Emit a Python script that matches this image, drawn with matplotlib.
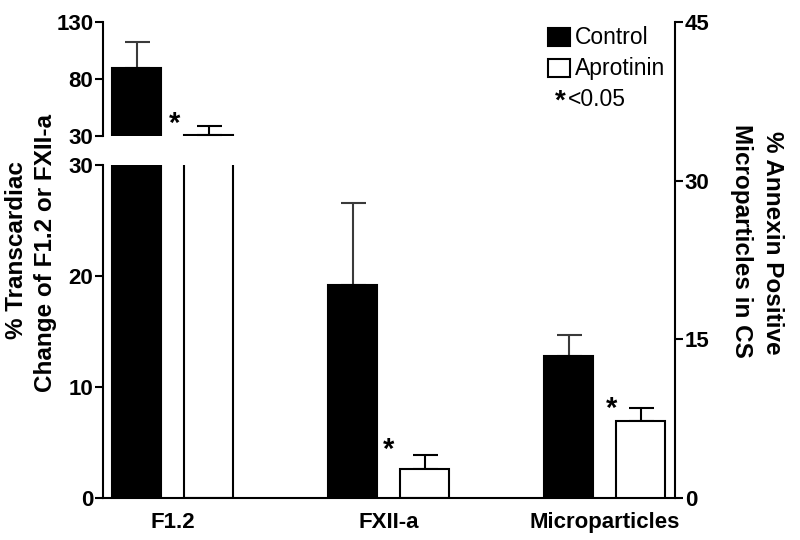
import matplotlib
matplotlib.use("Agg")
import matplotlib.pyplot as plt
from matplotlib.patches import Rectangle

plt.rcParams['font.family'] = ['Liberation Sans', 'DejaVu Sans']

categories = ['F1.2', 'FXII-a', 'Microparticles']
control = [89.6, 19.2, 13.4]
control_err = [22.9, 7.4, 2.0]
aprotinin = [31.0, 2.6, 7.3]
aprotinin_err = [7.8, 1.3, 1.2]
top_ticks = [30, 80, 130]
bot_ticks = [0, 10, 20, 30]
right_ticks = [0, 15, 30, 45]
sig_label = '<0.05'

W, H = 800, 540
fig = plt.figure(figsize=(8, 5.4), dpi=100)

def rect(x0, y0, x1, y1):
    return [x0 / W, 1 - y1 / H, (x1 - x0) / W, (y1 - y0) / H]

ax_bot = fig.add_axes(rect(103, 165, 675, 498))
ax_top = fig.add_axes(rect(103, 22, 675, 136))
ax_r = fig.add_axes(rect(103, 22, 675, 498))
ax_r.patch.set_alpha(0)

xlim = (-0.323, 2.325)
off = 0.167
bw = 0.227
lw = 1.5

def draw(ax, idx):
    for i in idx:
        ax.bar(i - off, control[i], bw, color='black', edgecolor='black', linewidth=lw, zorder=2)
        ax.errorbar(i - off, control[i], yerr=[[0], [control_err[i]]], fmt='none',
                    ecolor='#3a3a3a', elinewidth=lw, capsize=9, capthick=lw, zorder=1)
        ax.bar(i + off, aprotinin[i], bw, color='white', edgecolor='black', linewidth=lw, zorder=2)
        ax.errorbar(i + off, aprotinin[i], yerr=[[0], [aprotinin_err[i]]], fmt='none',
                    ecolor='black', elinewidth=lw, capsize=9, capthick=lw, zorder=1)

draw(ax_bot, [0, 1])
draw(ax_top, [0, 1])
draw(ax_r, [2])

for ax in (ax_bot, ax_top, ax_r):
    ax.set_xlim(*xlim)
    for s in ax.spines.values():
        s.set_linewidth(lw)

ax_bot.set_ylim(0, 30)
ax_bot.set_yticks(bot_ticks)
ax_bot.spines['top'].set_visible(False)
ax_bot.spines['right'].set_visible(False)
ax_bot.set_xticks(range(len(categories)))
ax_bot.set_xticklabels(categories, fontweight='bold', fontsize=16)
ax_bot.tick_params(axis='x', length=0, pad=10)
ax_bot.tick_params(axis='y', length=6, width=lw, labelsize=16, pad=1)
for t in ax_bot.get_yticklabels():
    t.set_fontweight('bold')

ax_top.set_ylim(30, 130)
ax_top.set_yticks(top_ticks)
for s in ('top', 'right', 'bottom'):
    ax_top.spines[s].set_visible(False)
ax_top.set_xticks([])
ax_top.tick_params(axis='y', length=6, width=lw, labelsize=16, pad=1)
for t in ax_top.get_yticklabels():
    t.set_fontweight('bold')

ax_r.set_ylim(0, 45)
ax_r.set_yticks(right_ticks)
for s in ('top', 'left', 'bottom'):
    ax_r.spines[s].set_visible(False)
ax_r.set_xticks([])
ax_r.yaxis.tick_right()
ax_r.tick_params(axis='y', length=6, width=lw, labelsize=16, pad=1)
for t in ax_r.get_yticklabels():
    t.set_fontweight('bold')

# significance asterisks
ax_top.text(0.01, 41, '*', ha='center', va='center', fontsize=21, fontweight='bold')
ax_bot.text(1.0, 4.3, '*', ha='center', va='center', fontsize=21, fontweight='bold')
ax_r.text(2.03, 8.4, '*', ha='center', va='center', fontsize=21, fontweight='bold')

# axis labels
fig.text(17 / W, 1 - 250 / H, '% Transcardiac', rotation=90, ha='center', va='center',
         fontsize=17.5, fontweight='bold')
fig.text(46 / W, 1 - 253 / H, 'Change of F1.2 or FXII-a', rotation=90, ha='center', va='center',
         fontsize=17.5, fontweight='bold')
fig.text(773 / W, 1 - 243 / H, '% Annexin Positive', rotation=270, ha='center', va='center',
         fontsize=17.5, fontweight='bold')
fig.text(741 / W, 1 - 241 / H, 'Microparticles in CS', rotation=270, ha='center', va='center',
         fontsize=17.5, fontweight='bold')

# legend
fig.patches.append(Rectangle((548 / W, 1 - 46 / H), 22 / W, 18 / H, transform=fig.transFigure,
                             facecolor='black', edgecolor='black', linewidth=1.5))
fig.patches.append(Rectangle((548 / W, 1 - 77 / H), 22 / W, 18 / H, transform=fig.transFigure,
                             facecolor='white', edgecolor='black', linewidth=1.5))
fig.text(575 / W, 1 - 38 / H, 'Control', ha='left', va='center', fontsize=16.5)
fig.text(575 / W, 1 - 69 / H, 'Aprotinin', ha='left', va='center', fontsize=16.5)
fig.text(555 / W, 1 - 102 / H, '*', ha='left', va='center', fontsize=20, fontweight='bold')
fig.text(568 / W, 1 - 99 / H, sig_label, ha='left', va='center', fontsize=16.5)

fig.savefig('out.png', dpi=100)
